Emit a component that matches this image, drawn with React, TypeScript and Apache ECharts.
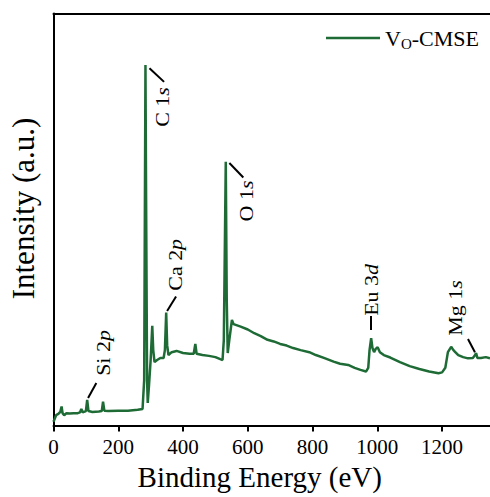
import React, { useEffect, useRef } from 'react';
import * as echarts from 'echarts';

// Binding energy (eV) and intensity (a.u.)
const energy = [
  0, 8, 15, 21, 25, 28, 33, 40, 50, 62, 75, 82, 86, 90, 100, 104, 108, 120, 140, 149,
  153, 157, 170, 200, 230, 260, 275, 280, 284, 286, 289, 291, 295, 300, 305, 308, 312,
  320, 330, 340, 344, 348, 351, 355, 365, 380, 400, 420, 433, 438, 442, 460, 480, 500,
  515, 522, 526, 532, 535, 538, 543, 551, 556, 578, 600, 620, 640, 661, 680, 700, 720,
  740, 763, 790, 810, 835, 865, 885, 910, 930, 948, 965, 972, 976, 981, 985, 990, 995,
  1001, 1008, 1020, 1040, 1070, 1100, 1130, 1160, 1189, 1200, 1210, 1218, 1228, 1235,
  1240, 1250, 1265, 1280, 1295, 1302, 1305, 1309, 1320, 1335, 1348,
];
const intensity = [
  0.9, 2.5, 2.8, 3.3, 4.6, 3.0, 2.5, 3.0, 2.9, 3.0, 3.0, 3.2, 4.0, 3.2, 3.5, 6.2, 3.5, 3.3, 3.4, 3.5,
  5.8, 3.6, 3.5, 3.6, 3.6, 3.8, 4.0, 11.0, 87.5, 54.7, 11.0, 5.5, 9.8, 15.9, 24.2, 18.3, 15.4,
  15.9, 16.4, 16.4, 18.3, 27.4, 19.5, 17.1, 17.8, 18.1, 17.6, 17.4, 17.4, 19.8, 17.4, 17.1, 16.9, 16.6,
  16.1, 15.9, 20.8, 64.0, 30.5, 17.6, 20.8, 25.6, 24.6, 24.0, 23.3, 22.4, 21.7, 20.8, 20.4, 19.8, 19.4,
  18.8, 18.3, 17.8, 17.1, 16.4, 15.5, 15.0, 14.7, 14.0, 13.5, 13.1, 14.0, 18.3, 21.2, 18.8, 17.8, 18.6,
  19.0, 17.8, 17.1, 16.5, 15.4, 14.4, 13.7, 13.1, 12.7, 12.9, 14.0, 17.8, 19.1, 18.3,
  17.9, 17.1, 16.6, 16.3, 16.4, 17.1, 17.6, 16.4, 16.4, 16.6, 16.3,
];
const xTicks = [0, 200, 400, 600, 800, 1000, 1200];

// Peak annotations: element + level, italic orbital letter
const peakNames = ['C 1', 'O 1', 'Ca 2', 'Si 2', 'Eu 3', 'Mg 1'];
const peakOrbitals = ['s', 's', 'p', 'p', 'd', 's'];
const labelEnergy = [338.5, 597, 378.5, 153.8, 981.5, 1243];
const labelIntensity = [77.3, 54.5, 39.0, 17.6, 32.9, 28.5];
const leaderStart = [[296.3, 86.7], [543.1, 63.7], [350.8, 27.8], [106.8, 6.7], [980, 23.2], [1301.5, 17.8]];
const leaderEnd = [[341.5, 83.4], [586.2, 60.2], [378.5, 31.3], [132.3, 10.3], [980, 26.6], [1280, 21.0]];

const seriesName = 'VO-CMSE';

export default function App() {
  const ref = useRef<HTMLDivElement>(null);
  useEffect(() => {
    document.body.style.margin = '0';
    const chart = echarts.init(ref.current as HTMLDivElement, null, { renderer: 'svg' });
    const font = 'Liberation Serif';
    const green = '#1e6b36';
    chart.setOption({
      animation: false,
      textStyle: { fontFamily: font },
      grid: { left: 52, right: 0, top: 13.5, bottom: 71.5 },
      legend: {
        data: [seriesName],
        left: 321,
        top: 22,
        icon: 'rect',
        itemWidth: 54,
        itemHeight: 2.5,
        formatter: () => '{a|V}{b|O}{a|-CMSE}',
        textStyle: {
          fontFamily: font,
          rich: {
            a: { fontFamily: font, fontSize: 22, color: '#000', lineHeight: 26, verticalAlign: 'middle' },
            b: { fontFamily: font, fontSize: 15, color: '#000', lineHeight: 15, verticalAlign: 'bottom' },
          },
        },
      },
      xAxis: [
        {
          type: 'value',
          min: 0,
          max: 1348,
          interval: 200,
          name: 'Binding Energy (eV)',
          nameLocation: 'middle',
          nameGap: 35,
          nameTextStyle: { fontFamily: font, fontSize: 29, color: '#000', padding: [0, 24, 0, 0] },
          axisLine: { onZero: false, lineStyle: { color: '#000', width: 2 } },
          axisTick: { show: true, length: 6, lineStyle: { color: '#000', width: 2 }, customValues: xTicks },
          axisLabel: {
            fontFamily: font,
            fontSize: 21,
            color: '#000',
            margin: 11,
            customValues: xTicks,
            formatter: (v: number) => String(v),
          },
          splitLine: { show: false },
        },
        {
          type: 'value',
          position: 'top',
          min: 0,
          max: 1348,
          axisLine: { onZero: false, lineStyle: { color: '#000', width: 2 } },
          axisTick: { show: false },
          axisLabel: { show: false },
          splitLine: { show: false },
        },
      ],
      yAxis: {
        type: 'value',
        min: 0,
        max: 100,
        name: 'Intensity (a.u.)',
        nameLocation: 'middle',
        nameGap: 14.5,
        nameTextStyle: { fontFamily: font, fontSize: 31, color: '#000', padding: [0, 0, 0, 22] },
        axisLine: { show: true, onZero: false, lineStyle: { color: '#000', width: 2 } },
        axisTick: { show: false },
        axisLabel: { show: false },
        splitLine: { show: false },
      },
      series: [
        {
          name: seriesName,
          type: 'line',
          showSymbol: false,
          symbol: 'none',
          color: green,
          lineStyle: { color: green, width: 2.5 },
          data: energy.map((e, i) => [e, intensity[i]]),
          markLine: {
            silent: true,
            symbol: ['none', 'none'],
            label: { show: false },
            lineStyle: { color: '#000', width: 2, type: 'solid' },
            data: leaderStart.map((s, i) => [{ coord: s }, { coord: leaderEnd[i] }]),
          },
        },
      ],
    });
    const graphics = peakNames.map((n, i) => {
      const p = chart.convertToPixel({ seriesIndex: 0 }, [labelEnergy[i], labelIntensity[i]]) as number[];
      return {
        type: 'text',
        x: p[0],
        y: p[1],
        rotation: Math.PI / 2,
        scaleX: 1.22,
        style: {
          text: `{n|${n}}{i|${peakOrbitals[i]}}`,
          align: 'center',
          verticalAlign: 'middle',
          fill: '#000',
          fontFamily: font,
          fontSize: 18,
          rich: {
            n: { fontFamily: font, fontSize: 18, fill: '#000' },
            i: { fontFamily: font, fontSize: 18, fontStyle: 'italic', fill: '#000' },
          },
        },
      };
    });
    chart.setOption({ graphic: graphics });
    return () => chart.dispose();
  }, []);
  return <div ref={ref} style={{ width: 490, height: 497 }} />;
}
